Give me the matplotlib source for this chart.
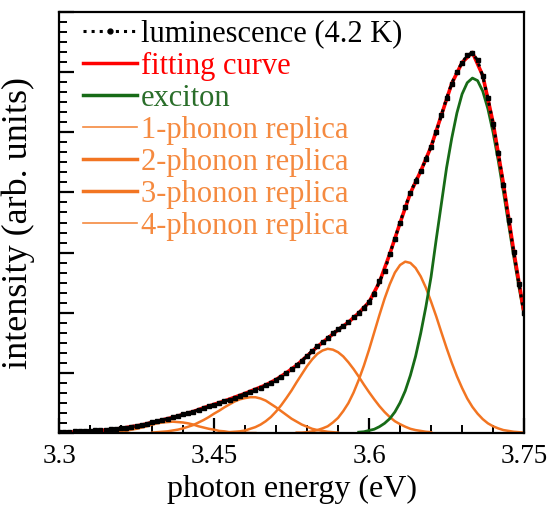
import numpy as np
import matplotlib
matplotlib.use("Agg")
import matplotlib.pyplot as plt
from matplotlib.ticker import MultipleLocator

plt.rcParams['font.family'] = ['Liberation Serif', 'DejaVu Serif']

# luminescence (4.2 K), read at 5 meV steps
lum_e = np.round(np.arange(3.300, 3.7501, 0.005), 3)
lum_i = [0.003, 0.003, 0.003, 0.004, 0.004, 0.005, 0.005, 0.006, 0.007, 0.008,
         0.009, 0.010, 0.011, 0.013, 0.015, 0.017, 0.019, 0.022, 0.025, 0.028,
         0.031, 0.034, 0.037, 0.040, 0.044, 0.047, 0.051, 0.055, 0.059, 0.063,
         0.067, 0.071, 0.075, 0.079, 0.083, 0.088, 0.093, 0.098, 0.103, 0.108,
         0.113, 0.119, 0.126, 0.134, 0.143, 0.152, 0.161, 0.172, 0.183, 0.195,
         0.206, 0.216, 0.226, 0.237, 0.246, 0.254, 0.263, 0.275, 0.285, 0.297,
         0.311, 0.330, 0.360, 0.385, 0.425, 0.462, 0.500, 0.537, 0.571, 0.598,
         0.622, 0.650, 0.680, 0.715, 0.755, 0.795, 0.830, 0.858, 0.880, 0.897,
         0.903, 0.885, 0.847, 0.795, 0.735, 0.665, 0.590, 0.505, 0.430, 0.355,
         0.285]

# fitting curve, 10 meV steps
fit_e = np.round(np.arange(3.30, 3.7501, 0.01), 2)
fit_i = [0.001, 0.002, 0.003, 0.004, 0.006, 0.008, 0.011, 0.015, 0.019, 0.025,
         0.031, 0.037, 0.044, 0.051, 0.060, 0.068, 0.076, 0.085, 0.094, 0.104,
         0.114, 0.127, 0.143, 0.161, 0.183, 0.205, 0.225, 0.245, 0.263, 0.285,
         0.311, 0.358, 0.425, 0.499, 0.570, 0.622, 0.680, 0.755, 0.830, 0.880,
         0.904, 0.849, 0.737, 0.592, 0.432, 0.285]

# exciton component
exc_e = np.round(np.arange(3.590, 3.7501, 0.005), 3)
exc_i = [0.002, 0.003, 0.006, 0.009, 0.015, 0.023, 0.034, 0.050, 0.072, 0.100,
         0.137, 0.182, 0.237, 0.300, 0.371, 0.460, 0.545, 0.630, 0.700, 0.760,
         0.805, 0.832, 0.843, 0.837, 0.812, 0.770, 0.714, 0.647, 0.573, 0.496,
         0.419, 0.347, 0.280]

# phonon replicas
ph1_e = np.round(np.arange(3.530, 3.7501, 0.005), 3)
ph1_i = [0.001, 0.001, 0.002, 0.004, 0.007, 0.011, 0.016, 0.025, 0.036, 0.052,
         0.071, 0.096, 0.126, 0.160, 0.198, 0.239, 0.280, 0.319, 0.353, 0.381,
         0.399, 0.407, 0.404, 0.392, 0.372, 0.345, 0.312, 0.277, 0.239, 0.202,
         0.167, 0.135, 0.107, 0.082, 0.062, 0.046, 0.033, 0.023, 0.016, 0.011,
         0.007, 0.005, 0.003, 0.002, 0.001]

ph2_e = np.round(np.arange(3.460, 3.6601, 0.005), 3)
ph2_i = [0.001, 0.002, 0.003, 0.004, 0.006, 0.010, 0.014, 0.020, 0.028, 0.038,
         0.051, 0.066, 0.083, 0.101, 0.121, 0.140, 0.159, 0.175, 0.188, 0.196,
         0.200, 0.198, 0.192, 0.182, 0.168, 0.152, 0.134, 0.115, 0.097, 0.080,
         0.064, 0.050, 0.038, 0.028, 0.021, 0.015, 0.010, 0.007, 0.005, 0.003,
         0.002]

ph3_e = np.round(np.arange(3.390, 3.5701, 0.005), 3)
ph3_i = [0.001, 0.002, 0.003, 0.004, 0.006, 0.008, 0.011, 0.015, 0.019, 0.025,
         0.031, 0.038, 0.046, 0.053, 0.061, 0.068, 0.075, 0.080, 0.083, 0.085,
         0.085, 0.082, 0.077, 0.069, 0.061, 0.052, 0.043, 0.034, 0.027, 0.020,
         0.015, 0.010, 0.007, 0.005, 0.003, 0.002, 0.001]

ph4_e = np.round(np.arange(3.330, 3.4901, 0.005), 3)
ph4_i = [0.000, 0.000, 0.001, 0.001, 0.002, 0.002, 0.004, 0.005, 0.008, 0.010,
         0.013, 0.016, 0.020, 0.023, 0.025, 0.026, 0.027, 0.026, 0.025, 0.023,
         0.020, 0.016, 0.013, 0.010, 0.008, 0.005, 0.004, 0.002, 0.002, 0.001,
         0.001, 0.000, 0.000]

orange = '#f27522'
orange_light = '#f58a40'

fig = plt.figure(figsize=(5.53, 5.08), dpi=100)
ax = fig.add_axes([0.1067, 0.1476, 0.841, 0.8288])

ax.plot(ph4_e, ph4_i, color=orange, lw=1.8)
ax.plot(ph3_e, ph3_i, color=orange, lw=1.8)
ax.plot(ph2_e, ph2_i, color=orange, lw=1.8)
ax.plot(ph1_e, ph1_i, color=orange, lw=1.8)
ax.plot(exc_e, exc_i, color='#176b17', lw=2.0)
ax.plot(fit_e, fit_i, color='#ff0000', lw=2.6)
ax.plot(lum_e, lum_i, color='black', ls=':', lw=2.2, marker='s', ms=2.8)

# legend handles
h = []
h += ax.plot([], [], color='black', ls=':', lw=2.2, marker='o', ms=3.5, label='luminescence (4.2 K)')
h += ax.plot([], [], color='#ff0000', lw=2.5, label='fitting curve')
h += ax.plot([], [], color='#176b17', lw=2.5, label='exciton')
h += ax.plot([], [], color=orange_light, lw=1.2, label='1-phonon replica')
h += ax.plot([], [], color=orange, lw=2.5, label='2-phonon replica')
h += ax.plot([], [], color=orange, lw=2.5, label='3-phonon replica')
h += ax.plot([], [], color=orange_light, lw=1.2, label='4-phonon replica')
leg = ax.legend(handles=h, loc='upper left', bbox_to_anchor=(0.052, 0.982),
                frameon=False, fontsize=22, handlelength=1.76, handletextpad=0.13,
                labelspacing=0.1, borderaxespad=0.0, borderpad=0.0, numpoints=1)
text_colors = ['black', '#ff0000', '#2a6e2a', orange_light, orange_light, orange_light, orange_light]
for t, c in zip(leg.get_texts(), text_colors):
    t.set_color(c)

ax.set_xlim(3.3, 3.75)
ax.set_ylim(0, 1.0)
ax.set_xticks([3.3, 3.45, 3.6, 3.75])
ax.set_xticklabels(['3.3', '3.45', '3.6', '3.75'])
ax.xaxis.set_minor_locator(MultipleLocator(0.03))
ax.yaxis.set_major_locator(MultipleLocator(1 / 7))
ax.yaxis.set_minor_locator(MultipleLocator(1 / 42))
ax.set_yticklabels([])
ax.tick_params(axis='both', which='both', direction='in', top=False, right=False)
ax.tick_params(axis='both', which='major', length=11, width=1.6)
ax.tick_params(axis='x', which='major', labelsize=19.5, pad=8)
ax.tick_params(axis='y', which='major', pad=2)
ax.tick_params(axis='both', which='minor', length=6, width=1.4)
for s in ax.spines.values():
    s.set_linewidth(1.6)

ax.set_xlabel('photon energy (eV)', fontsize=23, labelpad=4)
ax.set_ylabel('intensity (arb. units)', fontsize=26, labelpad=14)

fig.savefig('out.png', dpi=100)
